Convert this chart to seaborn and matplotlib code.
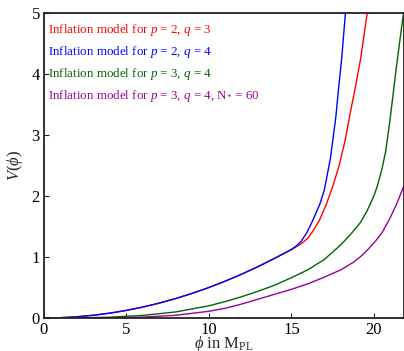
import numpy as np
import pandas as pd
import matplotlib
matplotlib.use("Agg")
import matplotlib.pyplot as plt
import seaborn as sns

# ---- data ----
labels = [
    r"Inflation model for $p$ = 2, $q$ = 3",
    r"Inflation model for $p$ = 2, $q$ = 4",
    r"Inflation model for $p$ = 3, $q$ = 4",
    r"Inflation model for $p$ = 3, $q$ = 4, N$_{*}$ = 60",
]
colors = ["#ff0000", "#0000ff", "#006400", "#990099"]

phi_red = [0, 1, 2, 3, 4, 5, 6, 7, 8, 9, 10, 11, 12, 13, 14, 15, 15.5, 15.75, 16.0, 16.3,
           16.7, 17.1, 17.5, 17.9, 18.25, 18.6, 18.85, 19.2, 19.6]
V_red = [0, 0.005, 0.02, 0.045, 0.08, 0.125, 0.18, 0.245, 0.32, 0.405, 0.5, 0.605, 0.72,
         0.845, 0.98, 1.12, 1.2, 1.25, 1.31, 1.42, 1.6, 1.85, 2.15, 2.5, 2.9, 3.4, 3.74,
         4.25, 5.0]

phi_blue = [0, 1, 2, 3, 4, 5, 6, 7, 8, 9, 10, 11, 12, 13, 14, 15, 15.3, 15.6, 15.92, 16.3,
            16.73, 17.0, 17.37, 17.7, 17.84, 18.05, 18.28]
V_blue = [0, 0.005, 0.02, 0.045, 0.08, 0.125, 0.18, 0.245, 0.32, 0.405, 0.5, 0.605, 0.72,
          0.845, 0.98, 1.125, 1.18, 1.26, 1.39, 1.6, 1.87, 2.1, 2.62, 3.3, 3.7, 4.25, 5.0]

phi_green = [0, 2, 4, 6, 8, 10, 11, 12, 13, 14, 15, 16, 17, 17.5, 18, 18.65, 19.2, 19.6,
             20.0, 20.2, 20.5, 20.71, 20.97, 21.37, 21.8]
V_green = [0, 0.002, 0.013, 0.043, 0.10, 0.2, 0.27, 0.35, 0.44, 0.54, 0.66, 0.79, 0.96,
           1.08, 1.2, 1.39, 1.57, 1.76, 2.0, 2.15, 2.45, 2.72, 3.22, 4.12, 5.0]

phi_purple = [0, 2, 4, 6, 8, 10, 11, 12, 13, 14, 15, 16, 17, 18, 18.8, 19.3, 19.7, 20.1,
              20.5, 20.95, 21.4, 21.8]
V_purple = [0, 0.0005, 0.004, 0.015, 0.045, 0.11, 0.16, 0.23, 0.31, 0.39, 0.47, 0.56, 0.67,
            0.79, 0.92, 1.03, 1.14, 1.26, 1.4, 1.62, 1.88, 2.15]

xticks = [0, 5, 10, 15, 20]
yticks = [0, 1, 2, 3, 4, 5]

frames = []
for lab, x, y in zip(labels, [phi_red, phi_blue, phi_green, phi_purple],
                     [V_red, V_blue, V_green, V_purple]):
    frames.append(pd.DataFrame({"phi": x, "V": y, "model": lab}))
df = pd.concat(frames, ignore_index=True)

sns.set_style("ticks")
plt.rcParams["font.family"] = ["Liberation Serif", "DejaVu Serif"]
plt.rcParams["mathtext.fontset"] = "custom"
plt.rcParams["mathtext.rm"] = "Liberation Serif"
plt.rcParams["mathtext.it"] = "Liberation Serif:italic"
plt.rcParams["mathtext.bf"] = "Liberation Serif:bold"

fig = plt.figure(figsize=(4.04, 3.51), dpi=100)
ax = fig.add_axes([44 / 404, 33 / 351, 359.5 / 404, 305 / 351])

sns.lineplot(data=df, x="phi", y="V", hue="model", palette=colors, hue_order=labels,
             sort=False, estimator=None, lw=1.0, ax=ax)

ax.set_xlim(0, 21.8)
ax.set_ylim(0, 5)
ax.set_xticks(xticks)
ax.set_yticks(yticks)
ax.tick_params(direction="in", length=3.5, width=0.8, labelsize=12, colors="#222222",
               labelcolor="black", pad=3)
for s in ax.spines.values():
    s.set_linewidth(1.3)
    s.set_color("#222222")

ax.set_xlabel(r"$\phi$ in M$_{\rm PL}$", fontsize=12, labelpad=-3)
ax.set_ylabel(r"$V(\phi)$", fontsize=12, labelpad=5)

leg = ax.legend(loc="upper left", bbox_to_anchor=(0.003, 0.980), frameon=False,
                handlelength=0, handletextpad=0, labelcolor="linecolor", fontsize=9.4,
                labelspacing=0.47, borderaxespad=0.0, borderpad=0.2)
for h in leg.legend_handles:
    h.set_visible(False)

fig.savefig("out.png", dpi=100)
